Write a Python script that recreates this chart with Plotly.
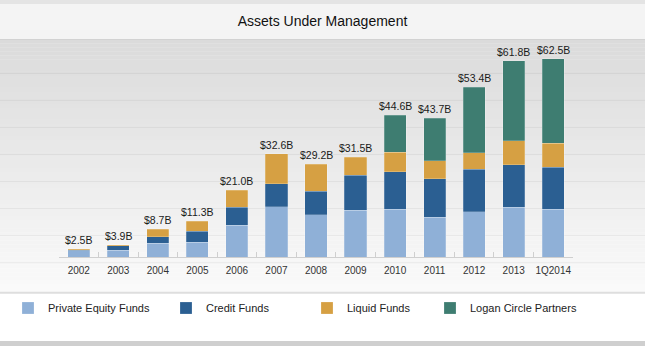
import plotly.graph_objects as go

categories = ["2002", "2003", "2004", "2005", "2006", "2007", "2008",
              "2009", "2010", "2011", "2012", "2013", "1Q2014"]
private_equity = [1.9, 2.2, 4.3, 4.7, 10.0, 15.9, 13.3, 14.7, 15.0, 12.5, 14.3, 15.7, 15.1]
credit = [0.2, 1.3, 2.1, 3.4, 5.7, 7.2, 7.4, 11.0, 11.8, 12.2, 13.4, 13.3, 13.2]
liquid = [0.4, 0.4, 2.3, 3.2, 5.3, 9.5, 8.5, 5.8, 6.2, 5.6, 5.2, 7.6, 7.6]
logan = [None, None, None, None, None, None, None, None, 11.6, 13.4, 20.5, 25.2, 26.6]
totals = [2.5, 3.9, 8.7, 11.3, 21.0, 32.6, 29.2, 31.5, 44.6, 43.7, 53.4, 61.8, 62.5]

series = [
    ("Private Equity Funds", private_equity, "#8fb0d7", "legend"),
    ("Credit Funds", credit, "#2b5f92", "legend2"),
    ("Liquid Funds", liquid, "#d6a043", "legend3"),
    ("Logan Circle Partners", logan, "#3e7d71", "legend4"),
]

W, H = 645, 346
L, R, T, B = 59.3, 72.3, 40, 89.3
PW, PH = W - L - R, H - T - B
YMAX = 68.36

def px_x(X):
    return (X - L) / PW

def px_y(Y):
    return (H - B - Y) / PH

fig = go.Figure()
for name, vals, color, lg in series:
    fig.add_trace(go.Bar(
        x=categories, y=vals, name=name, width=0.56,
        marker=dict(color=color, line=dict(color="rgba(255,255,255,0.35)", width=0.6)),
        legend=lg,
    ))

shapes = []
shapes.append(dict(type="rect", xref="paper", yref="paper", x0=px_x(0), x1=px_x(W),
                   y0=px_y(4), y1=px_y(0), fillcolor="#e4e4e4", line_width=0, layer="below"))
shapes.append(dict(type="rect", xref="paper", yref="paper", x0=px_x(0), x1=px_x(W),
                   y0=px_y(39), y1=px_y(4), fillcolor="#f4f4f4", line_width=0, layer="below"))
n = 63
top, bot = 39.5, 292.0
for i in range(n):
    y0 = top + (bot - top) * i / n
    y1 = top + (bot - top) * (i + 1) / n
    f = i / (n - 1)
    c = int(round(219 + (250 - 219) * f))
    shapes.append(dict(type="rect", xref="paper", yref="paper", x0=px_x(0), x1=px_x(W),
                       y0=px_y(y1 + 0.3), y1=px_y(y0), fillcolor=f"rgb({c},{c},{c})",
                       line_width=0, layer="below"))
for k in range(8):
    Y = 73.3 + 27.0 * k
    f = (Y - top) / (bot - top)
    c = int(round(219 + (250 - 219) * f)) - 12
    shapes.append(dict(type="line", xref="paper", yref="paper", x0=px_x(0), x1=px_x(W),
                       y0=px_y(Y), y1=px_y(Y), line=dict(color=f"rgb({c},{c},{c})", width=1),
                       layer="below"))
shapes.append(dict(type="line", xref="paper", yref="paper", x0=px_x(0), x1=px_x(W),
                   y0=px_y(39.5), y1=px_y(39.5), line=dict(color="#d2d2d2", width=1), layer="below"))
shapes.append(dict(type="line", xref="paper", yref="paper", x0=px_x(0), x1=px_x(W),
                   y0=px_y(292.5), y1=px_y(292.5), line=dict(color="#dedede", width=2), layer="below"))
shapes.append(dict(type="rect", xref="paper", yref="paper", x0=px_x(0), x1=px_x(W),
                   y0=px_y(H + 1), y1=px_y(340.5), fillcolor="#cfcfcf", line_width=0, layer="below"))

annotations = []
for i, t in enumerate(totals):
    annotations.append(dict(x=i, y=t, xref="x", yref="y", text=f"${t:.1f}B", showarrow=False,
                            yanchor="bottom", yshift=1,
                            font=dict(family="Liberation Sans, Arial", size=10.5, color="#1a1a1a")))

legend_common = dict(orientation="h", xref="container", yref="container", yanchor="middle",
                     y=1 - 308 / H, bgcolor="rgba(0,0,0,0)",
                     font=dict(family="Liberation Sans, Arial", size=11, color="#222"))
lx = [8, 166, 307, 430]

fig.update_layout(
    width=W, height=H, barmode="stack",
    margin=dict(l=L, r=R, t=T, b=B, pad=0),
    paper_bgcolor="white", plot_bgcolor="rgba(0,0,0,0)",
    title=dict(text="Assets Under Management", x=0.5, xref="container", xanchor="center",
               y=1 - 21.5 / H, yref="container", yanchor="middle",
               font=dict(family="Liberation Sans, Arial", size=14, color="#111")),
    xaxis=dict(type="category", range=[-0.5, 12.5], showgrid=False, showline=True,
               linecolor="#cfcfcf", linewidth=1, tickangle=0, ticklabelstandoff=4,
               ticks="inside", tickson="boundaries", ticklen=5, tickcolor="#cfcfcf",
               tickfont=dict(family="Liberation Sans, Arial", size=10, color="#333")),
    yaxis=dict(range=[0, YMAX], visible=False, showgrid=False, zeroline=False),
    shapes=shapes, annotations=annotations,
    legend=dict(x=lx[0] / W, **legend_common),
    legend2=dict(x=lx[1] / W, **legend_common),
    legend3=dict(x=lx[2] / W, **legend_common),
    legend4=dict(x=lx[3] / W, **legend_common),
    showlegend=True,
)

fig.write_html("out.html")
